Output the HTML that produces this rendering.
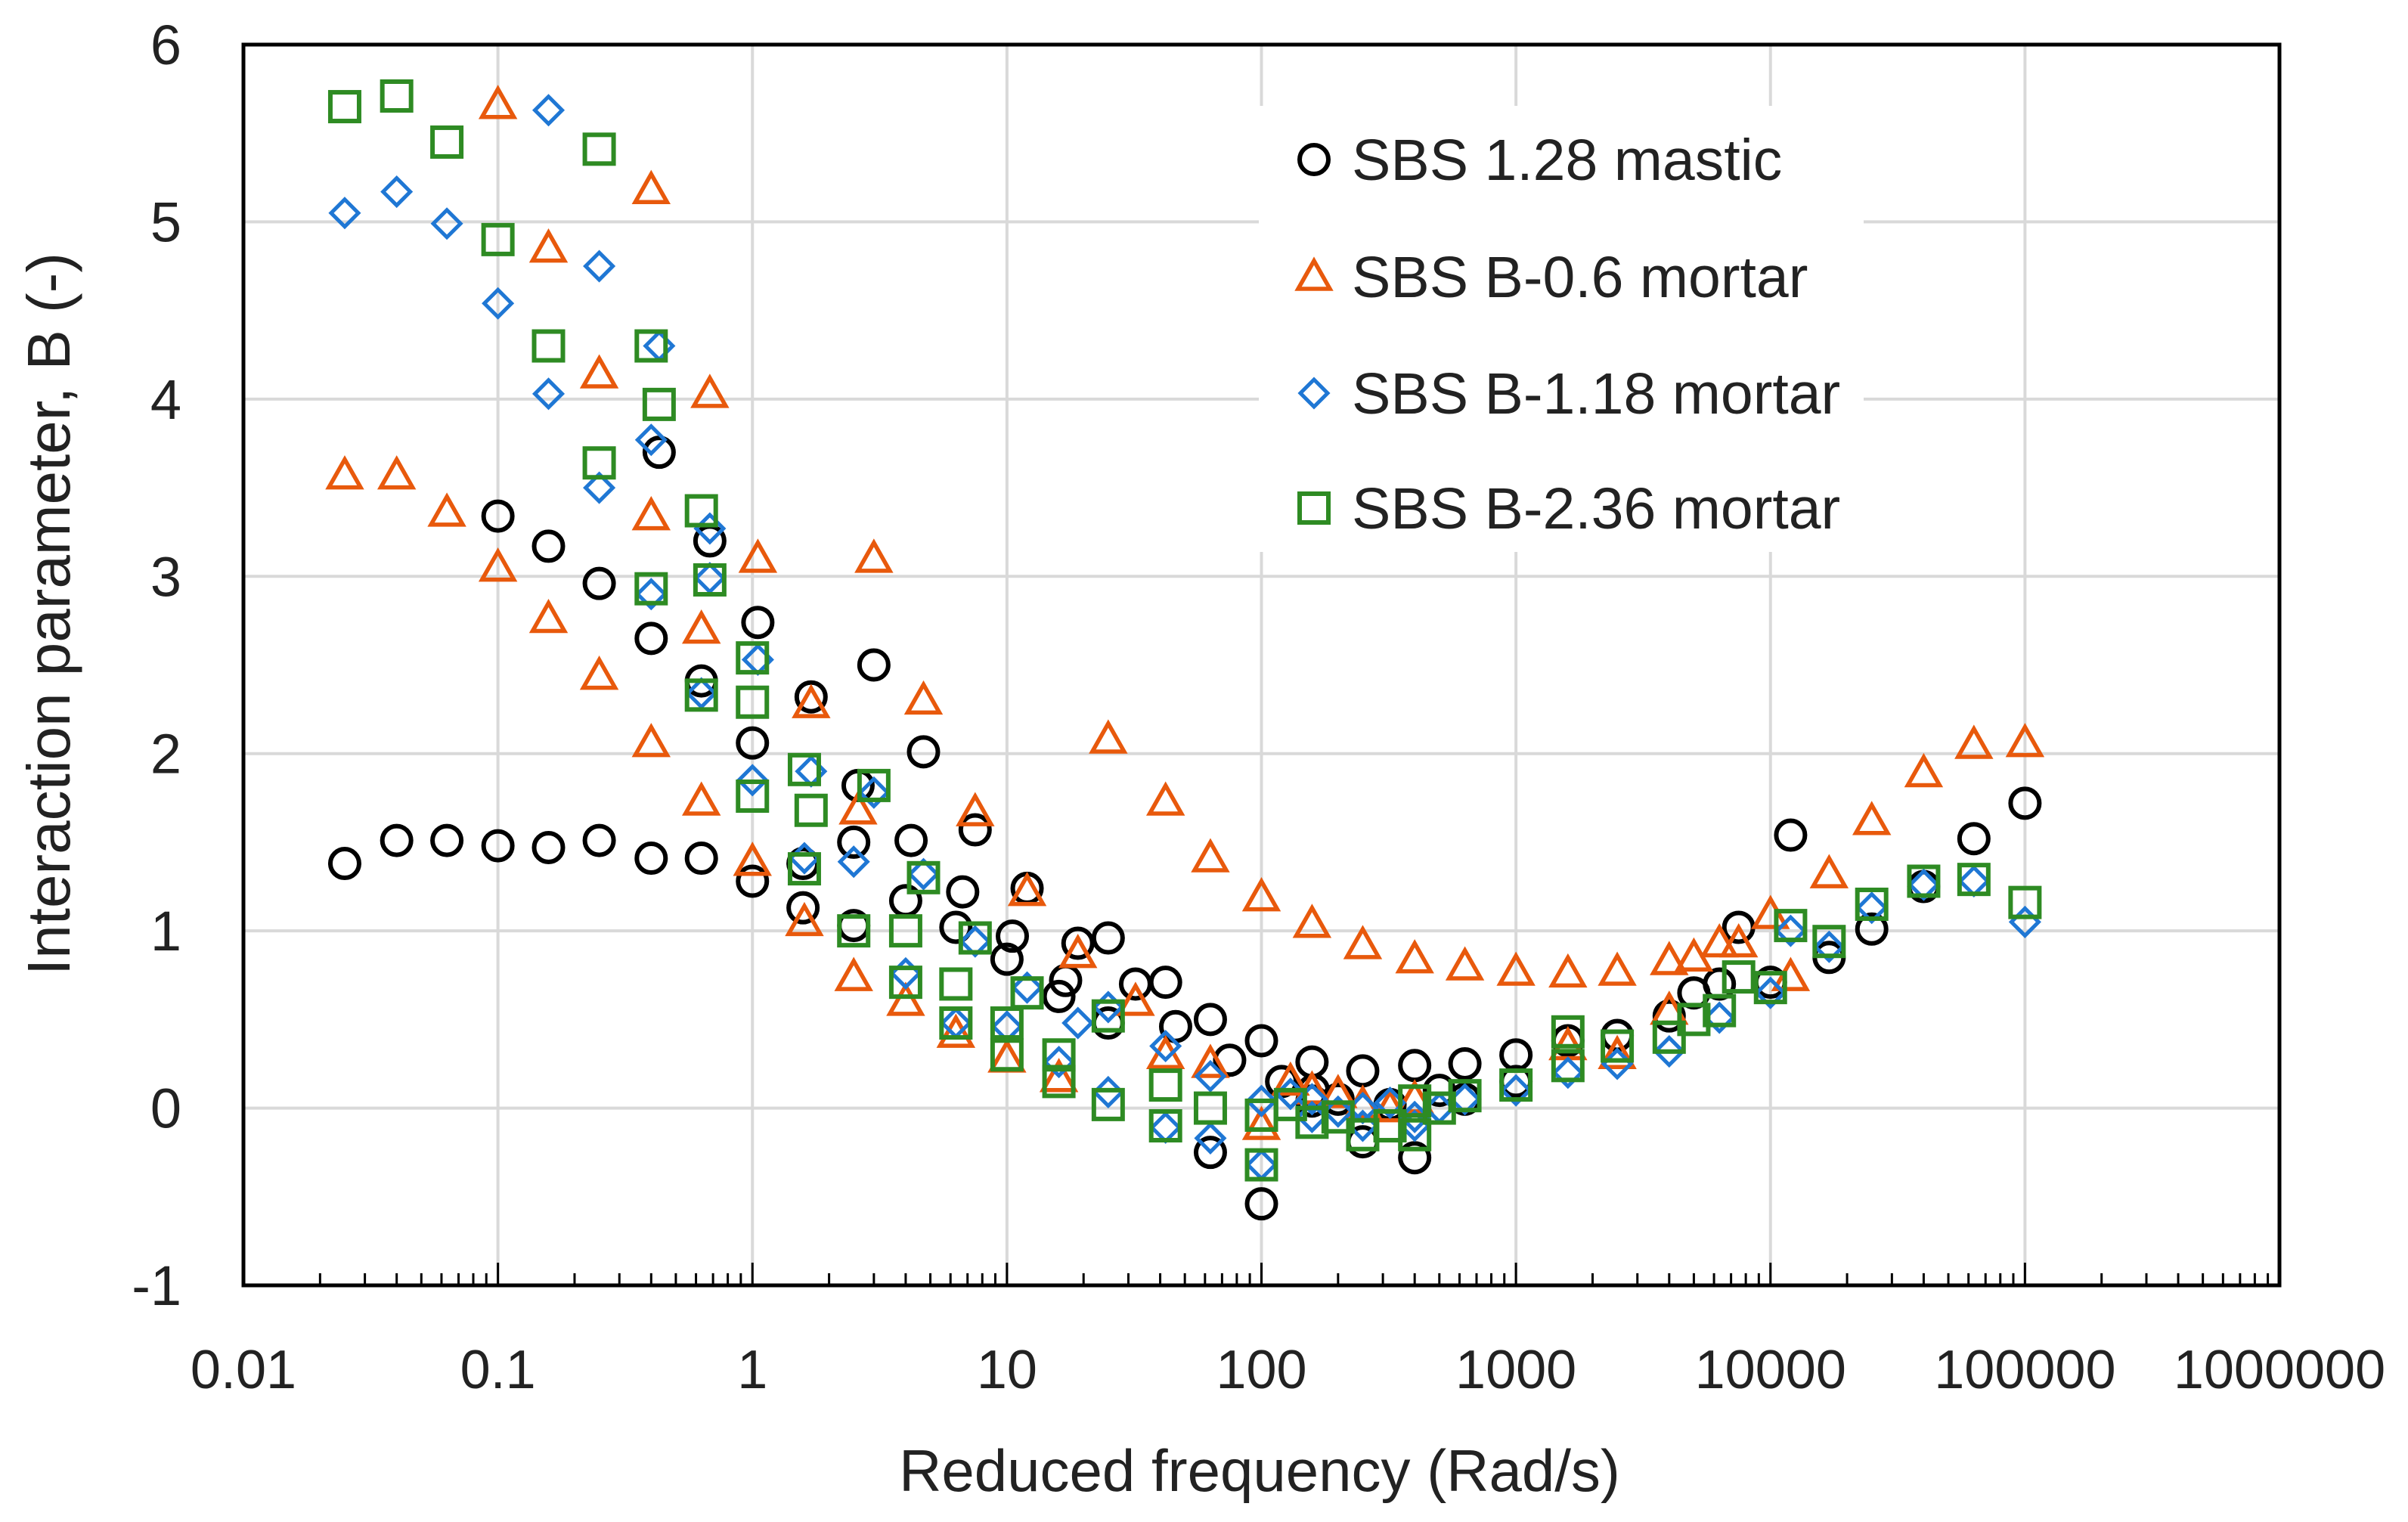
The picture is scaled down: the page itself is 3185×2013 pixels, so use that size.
<!DOCTYPE html>
<html><head><meta charset="utf-8"><style>
html,body{margin:0;padding:0;background:#fff;}
svg{display:block;font-family:"Liberation Sans",Arial,sans-serif;}
</style></head><body>
<svg id="chart" width="3185" height="2013" viewBox="0 0 3185 2013" xmlns="http://www.w3.org/2000/svg">
<rect x="0" y="0" width="3185" height="2013" fill="#fff"/>
<g id="grid"></g>
<g id="axes"></g>
<g id="marks"></g>
<g id="legend"></g>
<text x="1666" y="1972" font-size="78" text-anchor="middle" fill="#222">Reduced frequency (Rad/s)</text>
<text transform="translate(92,812) rotate(-90)" font-size="80" text-anchor="middle" fill="#222">Interaction parameter, B (-)</text>
</svg>
<script>
// ---- data ----
const xTickLabels = ["0.01","0.1","1","10","100","1000","10000","100000","1000000"];
const yTickValues = [-1,0,1,2,3,4,5,6];
const seriesNames = ["SBS 1.28 mastic","SBS B-0.6 mortar","SBS B-1.18 mortar","SBS B-2.36 mortar"];

const masticFreq = [0.025,0.04,0.063,0.1,0.158,0.25,0.4,0.63,0.1,0.158,0.25,0.4,0.43,0.63,0.68,1,1,1.05,1.58,1.58,1.7,2.5,2.5,2.6,3,4,4.2,4.7,6.3,6.7,7.5,10,10.5,12,16,17,19,25,25,32,42,46,63,63,75,100,100,158,158,250,250,400,400,630,1000,1600,2500,4000,5000,6300,7500,10000,12000,17000,25000,40000,63000,100000,160,630,1000,120,200,320,500];
const masticVal  = [1.38,1.51,1.51,1.48,1.47,1.51,1.41,1.41,3.34,3.17,2.96,2.65,3.7,2.41,3.2,1.28,2.06,2.74,1.38,1.13,2.32,1.03,1.5,1.82,2.5,1.17,1.51,2.01,1.02,1.22,1.57,0.84,0.97,1.24,0.63,0.72,0.93,0.96,0.48,0.7,0.71,0.46,0.5,-0.25,0.27,0.38,-0.54,0.26,0.04,0.21,-0.19,0.24,-0.28,0.25,0.3,0.38,0.41,0.52,0.65,0.7,1.02,0.71,1.54,0.85,1.01,1.25,1.52,1.72,0.1,0.05,0.15,0.15,0.05,0.02,0.1];

const b06Freq = [0.025,0.04,0.063,0.1,0.1,0.158,0.158,0.25,0.25,0.4,0.4,0.4,0.63,0.63,0.68,1,1.05,1.6,1.7,2.5,2.6,3,4,4.7,6.3,7.5,10,12,16,19,25,32,42,63,100,158,250,400,630,1000,1600,2500,4000,5000,6300,7500,10000,12000,17000,25000,40000,63000,100000,42,63,100,158,250,400,1600,2500,4000,130,200,320];
const b06Val  = [3.57,3.57,3.36,5.66,3.05,4.85,2.76,4.14,2.44,5.18,3.34,2.06,2.7,1.73,4.03,1.39,3.1,1.05,2.28,0.74,1.68,3.1,0.6,2.3,0.42,1.67,0.28,1.22,0.17,0.87,2.08,0.6,1.73,1.41,1.19,1.04,0.92,0.84,0.8,0.77,0.76,0.77,0.83,0.85,0.93,0.93,1.09,0.74,1.32,1.62,1.89,2.05,2.06,0.3,0.25,-0.1,0.1,0.02,0.05,0.35,0.3,0.55,0.15,0.08,0.0];

const b118Freq = [0.025,0.04,0.063,0.1,0.158,0.158,0.25,0.25,0.4,0.43,0.4,0.63,0.68,0.68,1,1.05,1.6,1.7,2.5,3,4,4.7,6.3,7.5,10,12,16,19,25,25,42,42,63,63,100,100,158,250,400,630,1000,1600,2500,4000,6300,10000,12000,17000,25000,40000,63000,100000,158,250,400,130,200,320,500];
const b118Val  = [5.05,5.17,4.99,4.54,5.63,4.03,4.75,3.5,3.77,4.3,2.9,2.34,3.27,2.99,1.85,2.53,1.41,1.9,1.39,1.78,0.76,1.32,0.48,0.94,0.46,0.68,0.26,0.48,0.09,0.57,-0.11,0.35,-0.17,0.18,-0.32,0.04,-0.05,-0.1,-0.1,0.05,0.1,0.2,0.25,0.32,0.51,0.65,1.0,0.91,1.13,1.26,1.28,1.05,0.05,0.0,-0.05,0.08,-0.02,0.03,0.0];

const b236Freq = [0.025,0.04,0.063,0.1,0.158,0.25,0.25,0.4,0.43,0.4,0.63,0.68,0.63,1,1,1,1.6,1.6,1.7,2.5,3,4,4,4.7,6.3,6.3,7.5,10,10,12,16,16,25,25,42,42,63,100,100,158,250,400,400,630,1000,1600,1600,2500,4000,5000,6300,7500,10000,12000,17000,25000,40000,63000,100000,130,200,320,500];
const b236Val  = [5.65,5.71,5.45,4.9,4.3,5.41,3.64,4.3,3.97,2.93,3.37,2.98,2.33,2.54,2.29,1.76,1.91,1.35,1.68,1.0,1.82,1.0,0.71,1.3,0.7,0.48,0.96,0.48,0.3,0.65,0.3,0.15,0.02,0.52,-0.1,0.13,0.0,-0.32,-0.04,-0.08,-0.15,-0.15,0.04,0.07,0.13,0.43,0.24,0.35,0.4,0.5,0.55,0.74,0.68,1.03,0.94,1.15,1.28,1.29,1.16,0.02,-0.05,-0.1,0.0];

// ---- layout ----
const L=322, R=3015, T=59, B=1700;
const xs = f => L + (Math.log10(f)+2)*(R-L)/8;
const ys = v => T + (6-v)*(B-T)/7;
const NS="http://www.w3.org/2000/svg";
function mk(tag, attrs, parent){const e=document.createElementNS(NS,tag);for(const k in attrs)e.setAttribute(k,attrs[k]);parent.appendChild(e);return e;}
const grid=document.getElementById('grid'), axes=document.getElementById('axes'), marks=document.getElementById('marks'), legend=document.getElementById('legend');

yTickValues.forEach(v=>{
  const l=mk('line',{x1:L,x2:R,y1:ys(v),y2:ys(v),stroke:'#d9d9d9','stroke-width':4},grid);
  
  
  const t=mk('text',{x:240,y:ys(v)+26,'font-size':74,'text-anchor':'end',fill:'#222'},axes);
  t.textContent=String(v);
  
  
});
xTickLabels.forEach((s,i)=>{
  const f=parseFloat(s);
  const l=mk('line',{x1:xs(f),x2:xs(f),y1:T,y2:B,stroke:'#d9d9d9','stroke-width':4},grid);
  
  
  const t=mk('text',{x:xs(f),y:1836,'font-size':72,'text-anchor':'middle',fill:'#222'},axes);
  t.textContent=s;
  
  
  if(i<8){for(let m=2;m<=9;m++){const x=xs(f*m);
    const tk=mk('line',{x1:x,x2:x,y1:B,y2:B-16,stroke:'#000','stroke-width':3},axes);
    
    }}
  const mj=mk('line',{x1:xs(f),x2:xs(f),y1:B,y2:B-30,stroke:'#000','stroke-width':3},axes);
  
  
});
const frame=mk('rect',{x:L,y:T,width:R-L,height:B-T,fill:'none',stroke:'#000','stroke-width':5},axes);



function marker(type,cx,cy,parent){
  let e;
  if(type===0) e=mk('circle',{cx:cx,cy:cy,r:19,fill:'none',stroke:'#000','stroke-width':6},parent);
  else if(type===1) e=mk('polygon',{points:`${cx},${cy-21} ${cx+21},${cy+16} ${cx-21},${cy+16}`,fill:'none',stroke:'#e8590c','stroke-width':5.5,'stroke-linejoin':'miter'},parent);
  else if(type===2) e=mk('polygon',{points:`${cx},${cy-18} ${cx+18},${cy} ${cx},${cy+18} ${cx-18},${cy}`,fill:'none',stroke:'#1f77d4','stroke-width':5},parent);
  else e=mk('rect',{x:cx-19,y:cy-19,width:38,height:38,fill:'none',stroke:'#2e8b23','stroke-width':6},parent);
  return e;
}
const allF=[masticFreq,b06Freq,b118Freq,b236Freq], allV=[masticVal,b06Val,b118Val,b236Val];
const snames=['mastic-point','b06-point','b118-point','b236-point'];
allF.forEach((F,s)=>{
  const g=mk('g',{},marks);
  
  
  F.forEach((f,i)=>{
    const e=marker(s,xs(f),ys(allV[s][i]),g);
    
    
  });
});

const lb=mk('rect',{x:1665,y:140,width:800,height:590,fill:'#fff'},legend);


const rowsY=[211,366,520,672];
seriesNames.forEach((n,i)=>{
  const g=mk('g',{},legend);
  
  
  marker(i,1738,rowsY[i],g);
  const t=mk('text',{x:1788,y:rowsY[i]+27,'font-size':77,fill:'#222'},g);
  t.textContent=n;
});
</script>
</body></html>
